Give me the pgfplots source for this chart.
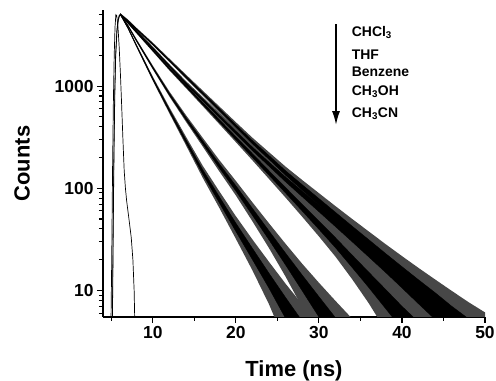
\documentclass[border=0pt]{standalone}
\usepackage{fontspec}
\setmainfont{Liberation Sans}
\usepackage{pgfplots}
\pgfplotsset{compat=1.18}
\usetikzlibrary{arrows.meta}
\begin{document}
\begin{tikzpicture}
\begin{axis}[
  width=382bp, height=307bp, scale only axis,
  xmin=4, xmax=50, ymin=5.5, ymax=5550,
  ymode=log,
  axis lines=left, axis line style={-, line width=1.2pt},
  enlargelimits=false,
  xtick={10,20,30,40,50},
  minor xtick={5,15,25,35,45},
  ytick={10,100,1000}, yticklabels={10,100,1000},
  minor ytick={6,7,8,9,20,30,40,50,60,70,80,90,200,300,400,500,600,700,800,900,2000,3000,4000,5000},
  tick align=outside,
  major tick length=6bp, minor tick length=4bp,
  tick style={line width=1.1pt, black},
  tick label style={font=\fontsize{17.5}{18}\selectfont\bfseries},
  /pgf/number format/assume math mode=true,
  xlabel={Time (ns)}, ylabel={Counts},
  label style={font=\fontsize{22}{24}\selectfont\bfseries},
  xlabel style={at={(axis description cs:0.5,-0.195)}, anchor=base},
  ylabel style={at={(axis description cs:-0.212,0.5)}, anchor=center},
  outer/.style={fill=black!72, draw=none},
  core/.style={fill=black, draw=black, line width=0.35pt},
]
% ---- outer noise envelopes (spikes) ----
% CHCl3
\addplot[outer] coordinates {
(6.1,5139) (7,4484) (8,3740) (10,2661) (12,1854) (14,1293) (16,904) (18,633) (20,443) (22,312)
(24,225) (26,162.4) (28,120.2) (30,89.6) (32,66.8) (34,50.1) (36,37.8) (38,28.5) (40,21.7) (42,16.6)
(44,12.8) (46,9.9) (48,7.7) (50,6.1)
(50,1) (48,1.1) (46,2.0) (44,3.6) (42,5.8) (40,9.0) (38,13.6) (36,20.2) (34,29.5) (32,42.7)
(30,61.2) (28,86.8) (26,123.1) (24,179) (22,257) (20,377) (18,553) (16,807) (14,1177) (12,1715)
(10,2494) (8,3541) (7,4266) (6.1,4906)} -- cycle;
% THF
\addplot[outer] coordinates {
(6.1,5139) (7,4384) (8,3573) (10,2431) (12,1638) (14,1117.5) (16,782) (18,547.5) (20,384.7) (22,271.1)
(24,195.6) (26,141.8) (28,105.0) (30,78.2) (32,58.4) (34,43.9) (36,33.2) (38,25.1) (40,19.1) (42,14.7)
(44,11.3) (46,8.8) (48,6.9) (50,5.4)
(50,1) (48,1) (46,1.5) (44,2.8) (42,4.6) (40,7.3) (38,11.3) (36,16.9) (34,24.8) (32,36.0)
(30,51.8) (28,74.0) (26,105.5) (24,152.3) (22,219.6) (20,322.9) (18,473) (16,692) (14,1010) (12,1508)
(10,2271) (8,3379) (7,4168) (6.1,4906)} -- cycle;
% Benzene
\addplot[outer] coordinates {
(6.1,5139) (7,4285) (8,3493) (10,2324) (12,1548) (14,1057) (16,722.8) (18,495.5) (20,340.7) (22,235.1)
(24,162.4) (26,113.1) (28,79.1) (30,55.6) (32,39.3) (34,27.5) (36,19.4) (38,13.8) (40,9.9) (42,7.2)
(44,5.3)
(44,1) (42,1) (40,2.0) (38,4.1) (36,7.5) (34,12.9) (32,21.4) (30,33.8) (28,52.5) (26,80.8)
(24,123.1) (22,187.2) (20,282.6) (18,424.9) (16,637) (14,953) (12,1421) (10,2168) (8,3301) (7,4072) (6.1,4906)} -- cycle;
% CH3OH
\addplot[outer] coordinates {
(6.1,5139) (7,4002) (8,2914) (10,1584) (12,883.8) (14,518.4) (16,312.2) (18,189.2) (20,118) (22,72.7)
(24,45.3) (26,28.5) (28,18.2) (30,11.9) (32,7.9) (34,5.3)
(34,1) (32,1.1) (30,3.1) (28,6.8) (26,13.6) (24,25.9) (22,47.4) (20,85) (18,146.6) (16,256.8)
(14,446.1) (12,788.8) (10,1456) (8,2738) (7,3796) (6.1,4906)} -- cycle;
% CH3CN
\addplot[outer] coordinates {
(6.1,5139) (7,3825) (8,2602) (10,1237) (12,618.2) (14,318.6) (16,166.6) (18,93.5) (20,53.3) (22,31.5)
(24,19.0) (26,11.6) (28,7.3) (30,4.7)
(30,1) (28,1) (26,3.0) (24,7.3) (22,15.7) (20,32.0) (18,64.4) (16,127) (14,262.5) (12,539)
(10,1124) (8,2437) (7,3624) (6.1,4906)} -- cycle;
% ---- instrument response ----
\addplot[black, line width=0.7pt] coordinates {
(4.95,4) (5.05,20) (5.15,150) (5.25,700) (5.35,2000) (5.45,3800) (5.55,5000) (5.65,4900)
(5.8,3800) (5.95,2400) (6.1,1300) (6.22,740) (6.4,300) (6.55,150) (6.7,100) (6.85,75)
(7.1,52) (7.4,33) (7.6,20) (7.75,10) (7.85,4)};
% ---- common rise ----
\addplot[core] coordinates {
(5.10,4) (5.20,40) (5.30,250) (5.40,900) (5.50,2000) (5.65,3500) (5.80,4500) (5.95,4950) (6.1,5054)
(6.1,4970) (5.98,4800) (5.85,4300) (5.7,3400) (5.55,1950) (5.45,880) (5.35,240) (5.25,38) (5.15,4)} -- cycle;
% ---- cores ----
% CHCl3
\addplot[core] coordinates {
(6.1,5054) (7,4405) (8,3667) (10,2600) (12,1803) (14,1251) (16,868.5) (18,603.6) (20,419) (22,292)
(24,208.5) (26,148.1) (28,108.1) (30,79.3) (32,58.1) (34,42.6) (36,31.4) (38,23.1) (40,17.1) (42,12.7)
(44,9.5) (46,7.0) (48,5.3) (50,4.0)
(50,1.9) (48,2.9) (46,4.2) (44,6.1) (42,8.7) (40,12.5) (38,17.7) (36,25.0) (34,35.2) (32,49.3)
(30,68.9) (28,95.9) (26,133.9) (24,191.5) (22,272) (20,395) (18,574.4) (16,833.5) (14,1209) (12,1753)
(10,2540) (8,3595) (7,4325) (6.1,4970)} -- cycle;
% THF
\addplot[core] coordinates {
(6.1,5054) (7,4305) (8,3502) (10,2373) (12,1591) (14,1078.5) (16,749) (18,520.5) (20,362.2) (22,252.4)
(24,179.9) (26,128.6) (28,93.7) (30,68.6) (32,50.3) (34,37.0) (36,27.3) (38,20.1) (40,14.8) (42,11.0)
(44,8.2) (46,6.1) (48,4.6) (50,3.5)
(50,1.6) (48,2.4) (46,3.5) (44,5.2) (42,7.4) (40,10.6) (38,15.1) (36,21.3) (34,30.0) (32,42.1)
(30,59.0) (28,82.5) (26,115.4) (24,164.1) (22,233.6) (20,339.8) (18,493.5) (16,717) (14,1039.5) (12,1543)
(10,2315) (8,3432) (7,4227) (6.1,4970)} -- cycle;
% Benzene
\addplot[core] coordinates {
(6.1,5054) (7,4208) (8,3423) (10,2267) (12,1502) (14,1019) (16,691.6) (18,469.8) (20,319.6) (22,217.7)
(24,148.1) (26,101.4) (28,69.4) (30,47.7) (32,32.8) (34,22.2) (36,15.1) (38,10.3) (40,7.0) (42,4.9)
(44,3.4)
(44,1.6) (42,2.5) (40,4.2) (38,6.7) (36,10.7) (34,16.8) (32,26.2) (30,39.7) (28,59.8) (26,89.6)
(24,133.9) (22,200.3) (20,298.4) (18,444.2) (16,660.4) (14,981) (12,1456) (10,2211) (8,3353) (7,4130) (6.1,4970)} -- cycle;
% CH3OH
\addplot[core] coordinates {
(6.1,5054) (7,3927) (8,2850) (10,1537) (12,849.3) (14,492.1) (16,292.1) (18,173.7) (20,106) (22,63.5)
(24,38.2) (26,23.1) (28,14.1) (30,8.7) (32,5.4) (34,3.4)
(34,1.5) (32,3.0) (30,5.5) (28,9.9) (26,17.7) (24,31.2) (22,54.3) (20,94) (18,158.3) (16,271.9)
(14,465.9) (12,814.7) (10,1491) (8,2786) (7,3853) (6.1,4970)} -- cycle;
% CH3CN
\addplot[core] coordinates {
(6.1,5054) (7,3752) (8,2542) (10,1196) (12,589.4) (14,298.2) (16,152.2) (18,82.9) (20,45.6) (22,25.8)
(24,14.7) (26,8.5) (28,5.0) (30,3.0)
(30,1.2) (28,2.6) (26,5.3) (24,10.5) (22,20.0) (20,37.8) (18,72.3) (16,137.8) (14,277.8) (12,560.6)
(10,1154) (8,2482) (7,3678) (6.1,4970)} -- cycle;
% ---- annotation ----
\draw[line width=1.8bp, -{Latex[length=14bp,width=8bp]}] (axis description cs:0.610,0.954) -- (axis description cs:0.610,0.625);
\begin{scope}[every node/.style={anchor=base west, font=\fontsize{14}{16}\selectfont\bfseries, inner sep=0pt}]
\node at (axis description cs:0.651,0.915) {CHCl\textsubscript{3}};
\node at (axis description cs:0.651,0.840) {THF};
\node at (axis description cs:0.651,0.782) {Benzene};
\node at (axis description cs:0.651,0.7215) {CH\textsubscript{3}OH};
\node at (axis description cs:0.651,0.650) {CH\textsubscript{3}CN};
\end{scope}
\end{axis}
\pgfresetboundingbox
\path ([shift={(-103bp,-64bp)}]current axis.south west) rectangle ([shift={(11bp,10bp)}]current axis.north east);
\end{tikzpicture}
\end{document}
